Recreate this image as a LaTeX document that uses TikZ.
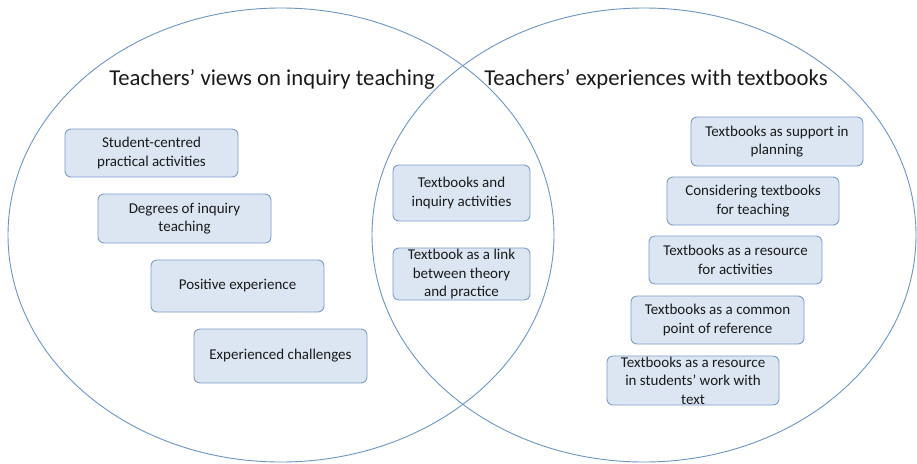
\documentclass[tikz,border=0pt]{standalone}
\usepackage{fontspec}
\setmainfont{Carlito}
\usepackage{tikz}
\usetikzlibrary{positioning}
\definecolor{ringline}{HTML}{6A95C4}
\definecolor{boxfill}{HTML}{DCE6F2}
\definecolor{boxline}{HTML}{7A9DC9}
\definecolor{inktext}{HTML}{1A1A1A}

\begin{document}
\begin{tikzpicture}[x=1pt,y=-1pt,
    theme/.style={draw=boxline,fill=boxfill,rounded corners=6pt,line width=0.9pt,
      align=center,inner sep=0pt,text=inktext,font=\fontsize{15}{18.5}\selectfont},
    heading/.style={text=inktext,font=\fontsize{22.7}{27}\selectfont}]
  \useasboundingbox (0,0) rectangle (917,463);

  % the two overlapping sets
  \draw[ringline,line width=0.9pt] (281,235) ellipse [x radius=273,y radius=227];
  \draw[ringline,line width=0.9pt] (644,235) ellipse [x radius=272,y radius=227];

  \node[heading] (viewsTitle) at (272,79) {Teachers’ views on inquiry teaching};
  \node[heading] (booksTitle) at (656,79) {Teachers’ experiences with textbooks};

  % left set
  \node[theme,minimum width=173pt,minimum height=48pt] (practical) at (151.5,153) {Student-centred\\practical activities};
  \node[theme,minimum width=173pt,minimum height=49pt] (degrees) at (184.5,218.5) {Degrees of inquiry\\teaching};
  \node[theme,minimum width=173pt,minimum height=52pt] (positive) at (237.5,286) {Positive experience};
  \node[theme,minimum width=173pt,minimum height=54pt] (challenges) at (280.5,356) {Experienced challenges};

  % overlap
  \node[theme,minimum width=137pt,minimum height=56pt] (inquiry) at (461.5,193) {Textbooks and\\inquiry activities};
  \node[theme,minimum width=137pt,minimum height=52pt] (link) at (461.5,274) {Textbook as a link\\between theory\\and practice};

  % right set
  \node[theme,minimum width=172pt,minimum height=49pt] (planning) at (777,141.5) {Textbooks as support in\\planning};
  \node[theme,minimum width=172pt,minimum height=48pt] (considering) at (753,201) {Considering textbooks\\for teaching};
  \node[theme,minimum width=173pt,minimum height=48pt] (activities) at (735.5,260) {Textbooks as a resource\\for activities};
  \node[theme,minimum width=173pt,minimum height=48pt] (reference) at (717.5,320) {Textbooks as a common\\point of reference};
  \node[theme,minimum width=172pt,minimum height=49pt] (studentwork) at (693,380.5) {Textbooks as a resource\\in students' work with\\text};
\end{tikzpicture}
\end{document}
